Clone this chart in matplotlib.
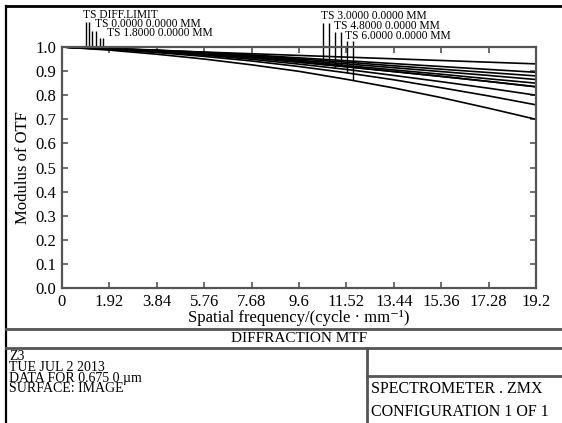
import numpy as np
import matplotlib
matplotlib.use('Agg')
import matplotlib.pyplot as plt
from matplotlib.lines import Line2D

plt.rcParams['font.family'] = ['Liberation Serif', 'DejaVu Serif']

# ── Data ────────────────────────────────────────────────────
freq = [0, 1.92, 3.84, 5.76, 7.68, 9.6, 11.52, 13.44, 15.36, 17.28, 19.2]

mtf_diff = [1.0, 0.993, 0.986, 0.979, 0.972, 0.965, 0.958, 0.951, 0.944, 0.937, 0.930]
mtf_f00  = [1.0, 0.994, 0.987, 0.978, 0.967, 0.955, 0.943, 0.931, 0.919, 0.907, 0.895]
mtf_18t  = [1.0, 0.994, 0.986, 0.976, 0.964, 0.950, 0.937, 0.922, 0.908, 0.894, 0.880]
mtf_18s  = [1.0, 0.993, 0.985, 0.974, 0.961, 0.945, 0.930, 0.914, 0.898, 0.882, 0.865]
mtf_30t  = [1.0, 0.993, 0.984, 0.972, 0.958, 0.941, 0.923, 0.905, 0.887, 0.868, 0.850]
mtf_30s  = [1.0, 0.992, 0.982, 0.970, 0.955, 0.937, 0.918, 0.898, 0.878, 0.857, 0.835]
mtf_48t  = [1.0, 0.991, 0.980, 0.966, 0.949, 0.929, 0.907, 0.882, 0.856, 0.829, 0.800]
mtf_48s  = [1.0, 0.992, 0.982, 0.970, 0.955, 0.937, 0.918, 0.898, 0.878, 0.857, 0.835]
mtf_60t  = [1.0, 0.987, 0.970, 0.950, 0.926, 0.899, 0.866, 0.830, 0.790, 0.746, 0.700]
mtf_60s  = [1.0, 0.990, 0.977, 0.961, 0.942, 0.919, 0.893, 0.864, 0.831, 0.797, 0.760]

xticks = [0, 1.92, 3.84, 5.76, 7.68, 9.6, 11.52, 13.44, 15.36, 17.28, 19.2]
xtick_labels = ['0', '1.92', '3.84', '5.76', '7.68', '9.6', '11.52', '13.44',
                '15.36', '17.28', '19.2']
yticks = [0.0, 0.1, 0.2, 0.3, 0.4, 0.5, 0.6, 0.7, 0.8, 0.9, 1.0]

# field labels: text, marker frequencies (T, S), which curves they point to
field_labels = ['TS DIFF.LIMIT', 'TS 0.0000 0.0000 MM', 'TS 1.8000 0.0000 MM',
                'TS 3.0000 0.0000 MM', 'TS 4.8000 0.0000 MM', 'TS 6.0000 0.0000 MM']
marker_freq = [(0.97, 1.09), (1.22, 1.38), (1.54, 1.66),
               (10.58, 10.82), (11.06, 11.29), (11.53, 11.78)]
marker_curves = [(mtf_diff, mtf_diff), (mtf_f00, mtf_f00), (mtf_18t, mtf_18s),
                 (mtf_30t, mtf_30s), (mtf_48t, mtf_48s), (mtf_60s, mtf_60t)]

info_lines = ['Z3', 'TUE JUL 2 2013', 'DATA FOR 0.675 0 \u00b5m', 'SURFACE: IMAGE']

# ── Figure ──────────────────────────────────────────────────
W, H = 562, 423
fig = plt.figure(figsize=(W / 100, H / 100), dpi=100)

def fx(px):
    return px / W

def fy(py):
    return 1 - py / H

ax = fig.add_axes([fx(62), fy(288), fx(536) - fx(62), fy(47) - fy(288)])

for curve in [mtf_diff, mtf_f00, mtf_18t, mtf_18s, mtf_30t, mtf_30s,
              mtf_48t, mtf_48s, mtf_60t, mtf_60s]:
    ax.plot(freq, curve, color='black', lw=1.2)

ax.set_xlim(0, 19.2)
ax.set_ylim(0, 1.0)
ax.set_xticks(xticks)
ax.set_xticklabels(xtick_labels)
ax.set_yticks(yticks)
ax.set_yticklabels([f"{v:.1f}" for v in yticks])
ax.tick_params(direction='in', length=4, width=1.2, color='#555555',
               top=True, right=True, labelsize=12, pad=4)
for s in ax.spines.values():
    s.set_color('#555555')
    s.set_linewidth(1.6)
ax.set_xlabel('Spatial frequency/(cycle \u00b7 mm\u207b\u00b9)', fontsize=12, labelpad=0)
ax.set_ylabel('Modulus of OTF', fontsize=12, labelpad=3)

# field markers and labels above the plot
def data_y(py):
    # pixel row -> data value on the y axis
    return (288 - py) / (288 - 47)

label_pos = [(83, 18.3, 22.5), (95, 27.3, 30.5), (107, 36, 38.5),
             (321, 19.3, 23), (334, 29.3, 32), (345, 39, 41)]
for text, (tx, ty, top), fr, cv in zip(field_labels, label_pos, marker_freq, marker_curves):
    fig.text(fx(tx), fy(ty), text, fontsize=8.3, ha='left', va='baseline')
    for f, c in zip(fr, cv):
        ax.vlines(f, np.interp(f, freq, c), data_y(top), color='black',
                  lw=1.0, clip_on=False)

# ── Frame and info block ────────────────────────────────────
frame_col = '#555555'
def hline(y, x0, x1, col=frame_col, lw=2.0):
    fig.add_artist(Line2D([fx(x0), fx(x1)], [fy(y), fy(y)], color=col, lw=lw))

def vline(x, y0, y1, col=frame_col, lw=2.0):
    fig.add_artist(Line2D([fx(x), fx(x)], [fy(y0), fy(y1)], color=col, lw=lw))

hline(6, 6, W, col='black', lw=2.0)
vline(6, 6, H, col='black', lw=1.6)
hline(329, 6, W)
hline(348, 6, W)
vline(367, 348, H)
hline(376, 367, W)

fig.text(fx(299), fy(338.5), 'DIFFRACTION MTF', fontsize=11, ha='center', va='center')

info_y = [359.5, 370.5, 381.5, 392]
for t, y in zip(info_lines, info_y):
    fig.text(fx(9), fy(y), t, fontsize=10, ha='left', va='baseline')

fig.text(fx(371), fy(393), 'SPECTROMETER . ZMX', fontsize=11.5, ha='left', va='baseline')
fig.text(fx(371), fy(416), 'CONFIGURATION 1 OF 1', fontsize=11.5, ha='left', va='baseline')

fig.savefig('out.png', dpi=100)
